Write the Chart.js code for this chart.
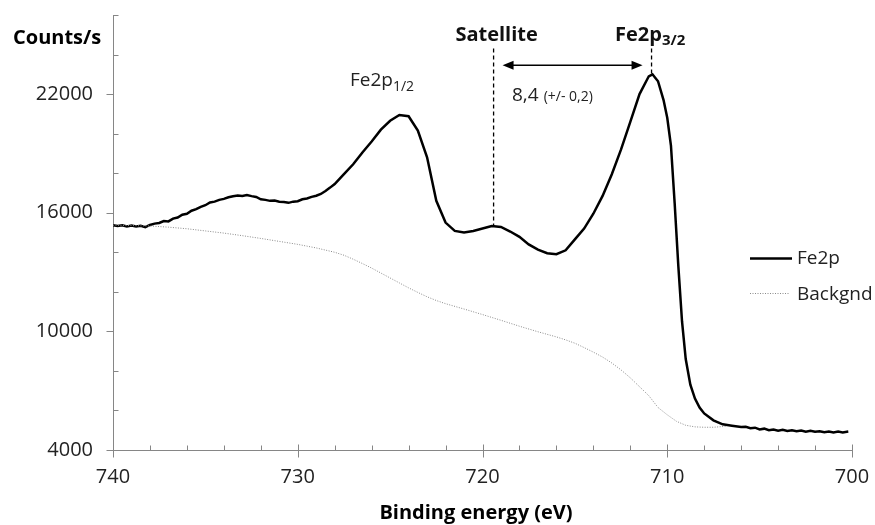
<!DOCTYPE html>
<html>
<head>
<meta charset="utf-8">
<script src="https://cdn.jsdelivr.net/npm/chart.js@4.4.1/dist/chart.umd.min.js"></script>
<style>
  html, body { margin: 0; padding: 0; background: #ffffff; }
  #wrap { width: 875px; height: 525px; }
</style>
</head>
<body>
<div id="wrap"><canvas id="c" width="875" height="525"></canvas></div>
<script>
// ---- Data ----
const fe2pEnergy = [740.0, 739.75, 739.5, 739.25, 739.0, 738.75, 738.5, 738.25, 738.0, 737.75, 737.5, 737.25, 737.0, 736.75, 736.5, 736.25, 736.0, 735.75, 735.5, 735.25, 735.0, 734.75, 734.5, 734.25, 734.0, 733.75, 733.5, 733.25, 733.0, 732.75, 732.5, 732.25, 732.0, 731.75, 731.5, 731.25, 731.0, 730.75, 730.5, 730.25, 730.0, 729.75, 729.5, 729.25, 729.0, 728.75, 728.5, 728.25, 728.0, 727.5, 727.0, 726.5, 726.0, 725.5, 725.0, 724.5, 724.0, 723.5, 723.0, 722.5, 722.0, 721.5, 721.0, 720.5, 720.0, 719.5, 719.0, 718.5, 718.0, 717.5, 717.0, 716.5, 716.0, 715.5, 715.0, 714.5, 714.0, 713.5, 713.0, 712.5, 712.0, 711.5, 711.0, 710.8, 710.5, 710.2, 710.0, 709.8, 709.6, 709.4, 709.2, 709.0, 708.75, 708.5, 708.25, 708.0, 707.5, 707.0, 706.5, 706.0, 705.75, 705.5, 705.25, 705.0, 704.75, 704.5, 704.25, 704.0, 703.75, 703.5, 703.25, 703.0, 702.75, 702.5, 702.25, 702.0, 701.75, 701.5, 701.25, 701.0, 700.75, 700.5, 700.2];
const fe2pCounts = [15370, 15330, 15360, 15310, 15350, 15300, 15340, 15270, 15380, 15450, 15480, 15580, 15560, 15700, 15760, 15900, 15950, 16100, 16180, 16300, 16380, 16520, 16560, 16650, 16700, 16780, 16830, 16870, 16850, 16900, 16840, 16800, 16680, 16650, 16600, 16620, 16560, 16540, 16500, 16560, 16580, 16680, 16720, 16800, 16860, 16950, 17100, 17270, 17450, 17950, 18450, 19050, 19600, 20200, 20650, 20940, 20880, 20150, 18800, 16600, 15500, 15080, 15000, 15080, 15200, 15330, 15280, 15050, 14780, 14400, 14130, 13950, 13900, 14100, 14650, 15200, 15950, 16850, 17950, 19200, 20600, 22000, 22900, 23000, 22650, 21700, 20800, 19400, 16500, 13300, 10500, 8600, 7300, 6600, 6150, 5850, 5500, 5300, 5230, 5160, 5170, 5100, 5130, 5040, 5080, 5000, 5040, 4980, 5020, 4960, 5000, 4950, 4980, 4930, 4970, 4920, 4950, 4900, 4940, 4890, 4930, 4890, 4930];

const bgEnergy = [740.0, 739.0, 738.0, 737.0, 736.0, 735.0, 734.0, 733.0, 732.0, 731.0, 730.0, 729.0, 728.0, 727.5, 727.0, 726.5, 726.0, 725.5, 725.0, 724.5, 724.0, 723.5, 723.0, 722.5, 722.0, 721.0, 720.0, 719.0, 718.0, 717.0, 716.0, 715.5, 715.0, 714.5, 714.0, 713.5, 713.0, 712.5, 712.0, 711.5, 711.0, 710.5, 710.0, 709.5, 709.0, 708.5, 708.0, 707.5, 706.8];
const bgCounts = [15370, 15350, 15330, 15270, 15190, 15080, 14970, 14840, 14700, 14550, 14400, 14220, 14000, 13850, 13650, 13430, 13200, 12950, 12700, 12450, 12200, 11970, 11750, 11560, 11400, 11130, 10850, 10560, 10260, 9980, 9720, 9570, 9400, 9180, 8950, 8700, 8400, 8050, 7650, 7200, 6750, 6150, 5780, 5450, 5250, 5170, 5150, 5150, 5200];

const seriesNames = ["Fe2p", "Backgnd"];
const xTickLabels = [740, 730, 720, 710, 700];
const yTickLabels = [4000, 10000, 16000, 22000];
const xMinorStep = 2;
const yMinorStep = 2000;

// annotation values (in data units)
const satelliteEnergy = 719.4;
const peakEnergy = 710.85;
const satelliteCounts = 15330;
const peakCounts = 23000;
const splittingText = "8,4";
const splittingErr = "(+/- 0,2)";

// ---- Drawing ----
const AXIS = '#868686';
const FONT = '"Open Sans", "Liberation Sans", sans-serif';

const annotate = {
  id: 'annotate',
  afterDatasetsDraw(chart) {
    const ctx = chart.ctx;
    const xs = chart.scales.x, ys = chart.scales.y;
    const ca = chart.chartArea;
    ctx.save();
    // tick marks
    ctx.strokeStyle = AXIS;
    ctx.lineWidth = 1;
    ctx.beginPath();
    for (let v = xs.min; v <= xs.max + 1e-9; v += xMinorStep) {
      const px = Math.round(xs.getPixelForValue(v)) + 0.5;
      const by = Math.round(ca.bottom) + 0.5;
      if (xTickLabels.includes(v)) { ctx.moveTo(px, by - 6); ctx.lineTo(px, by + 7); }
      else { ctx.moveTo(px, by - 5); ctx.lineTo(px, by); }
    }
    for (let v = ys.min; v <= ys.max + 1e-9; v += yMinorStep) {
      const py = Math.round(ys.getPixelForValue(v)) + 0.5;
      const lx = Math.round(ca.left) + 0.5;
      if (yTickLabels.includes(v)) { ctx.moveTo(lx - 7, py); ctx.lineTo(lx, py); }
      else { ctx.moveTo(lx, py); ctx.lineTo(lx + 5, py); }
    }
    ctx.stroke();

    // dashed markers
    const topV = 24300;
    ctx.strokeStyle = '#000';
    ctx.lineWidth = 1.3;
    ctx.setLineDash([4, 3]);
    ctx.beginPath();
    let sx = xs.getPixelForValue(satelliteEnergy);
    ctx.moveTo(sx, ys.getPixelForValue(topV)); ctx.lineTo(sx, ys.getPixelForValue(satelliteCounts));
    let kx = xs.getPixelForValue(peakEnergy);
    ctx.moveTo(kx, ys.getPixelForValue(topV)); ctx.lineTo(kx, ys.getPixelForValue(peakCounts));
    ctx.stroke();
    ctx.setLineDash([]);

    // double arrow
    const ay = ys.getPixelForValue(23460);
    const ax1 = sx + 9, ax2 = kx - 9;
    ctx.lineWidth = 1.5;
    ctx.beginPath(); ctx.moveTo(ax1 + 6, ay); ctx.lineTo(ax2 - 6, ay); ctx.stroke();
    ctx.fillStyle = '#000';
    ctx.beginPath(); ctx.moveTo(ax1, ay); ctx.lineTo(ax1 + 11, ay - 4.5); ctx.lineTo(ax1 + 11, ay + 4.5); ctx.closePath(); ctx.fill();
    ctx.beginPath(); ctx.moveTo(ax2, ay); ctx.lineTo(ax2 - 11, ay - 4.5); ctx.lineTo(ax2 - 11, ay + 4.5); ctx.closePath(); ctx.fill();

    // texts
    ctx.textBaseline = 'alphabetic';
    ctx.fillStyle = '#111';
    ctx.font = 'bold 20px ' + FONT;
    ctx.textAlign = 'center';
    ctx.fillText('Satellite', sx + 3, 41);
    ctx.textAlign = 'left';
    ctx.fillText('Fe2p', 615, 41);
    let w = ctx.measureText('Fe2p').width;
    ctx.font = 'bold 15px ' + FONT;
    ctx.fillText('3/2', 615 + w, 45);

    ctx.fillStyle = '#222';
    ctx.font = '19px ' + FONT;
    ctx.fillText('Fe2p', 350, 86);
    w = ctx.measureText('Fe2p').width;
    ctx.font = '14px ' + FONT;
    ctx.fillText('1/2', 350 + w, 91);

    ctx.font = '19px ' + FONT;
    ctx.fillText(splittingText, 512, 101);
    w = ctx.measureText(splittingText).width;
    ctx.font = '14px ' + FONT;
    ctx.fillText(splittingErr, 512 + w + 5, 101);

    // axis titles
    ctx.fillStyle = '#000';
    ctx.font = 'bold 20px ' + FONT;
    ctx.fillText('Counts/s', 13, 44);
    ctx.textAlign = 'center';
    ctx.fillText('Binding energy (eV)', 476, 519);

    // legend
    ctx.textAlign = 'left';
    ctx.strokeStyle = '#000';
    ctx.lineWidth = 2.5;
    ctx.beginPath(); ctx.moveTo(750, 258.5); ctx.lineTo(792, 258.5); ctx.stroke();
    ctx.strokeStyle = '#8a8a8a';
    ctx.lineWidth = 1;
    ctx.setLineDash([1, 1.5]);
    ctx.beginPath(); ctx.moveTo(750, 293.5); ctx.lineTo(790, 293.5); ctx.stroke();
    ctx.setLineDash([]);
    ctx.fillStyle = '#222';
    ctx.font = '19px ' + FONT;
    ctx.fillText(seriesNames[0], 797, 264);
    ctx.fillText(seriesNames[1], 797, 300);
    ctx.restore();
  }
};

const toPts = (xs, ys) => xs.map((x, i) => ({ x: x, y: ys[i] }));

new Chart(document.getElementById('c'), {
  type: 'line',
  data: {
    datasets: [
      { label: seriesNames[1], data: toPts(bgEnergy, bgCounts), borderColor: '#8a8a8a', borderWidth: 1, borderDash: [1, 1.5], pointRadius: 0, tension: 0, fill: false },
      { label: seriesNames[0], data: toPts(fe2pEnergy, fe2pCounts), borderColor: '#000000', borderWidth: 2.5, pointRadius: 0, tension: 0, fill: false }
    ]
  },
  options: {
    responsive: false,
    animation: false,
    devicePixelRatio: 1,
    layout: { padding: { top: 15, right: 23, left: 0, bottom: 0 } },
    plugins: { legend: { display: false }, tooltip: { enabled: false } },
    scales: {
      x: {
        type: 'linear', reverse: true, min: 700, max: 740,
        afterBuildTicks: s => { s.ticks = xTickLabels.map(v => ({ value: v })); },
        afterFit: s => { s.height = 75; s.paddingLeft = 0; s.paddingRight = 0; },
        grid: { display: true, drawOnChartArea: false, drawTicks: false, color: 'rgba(0,0,0,0)' },
        border: { display: true, color: AXIS, width: 1 },
        ticks: { padding: 15, color: '#222', font: { family: FONT, size: 20 }, maxRotation: 0, autoSkip: false, callback: v => String(v) }
      },
      y: {
        type: 'linear', min: 4000, max: 26000,
        afterBuildTicks: s => { s.ticks = yTickLabels.map(v => ({ value: v })); },
        afterFit: s => { s.width = 113; s.paddingTop = 0; s.paddingBottom = 0; },
        grid: { display: true, drawOnChartArea: false, drawTicks: false, color: 'rgba(0,0,0,0)' },
        border: { display: true, color: AXIS, width: 1 },
        ticks: { padding: 20, color: '#222', font: { family: FONT, size: 20 }, autoSkip: false, callback: v => String(v) }
      }
    }
  },
  plugins: [annotate]
});
</script>
</body>
</html>
